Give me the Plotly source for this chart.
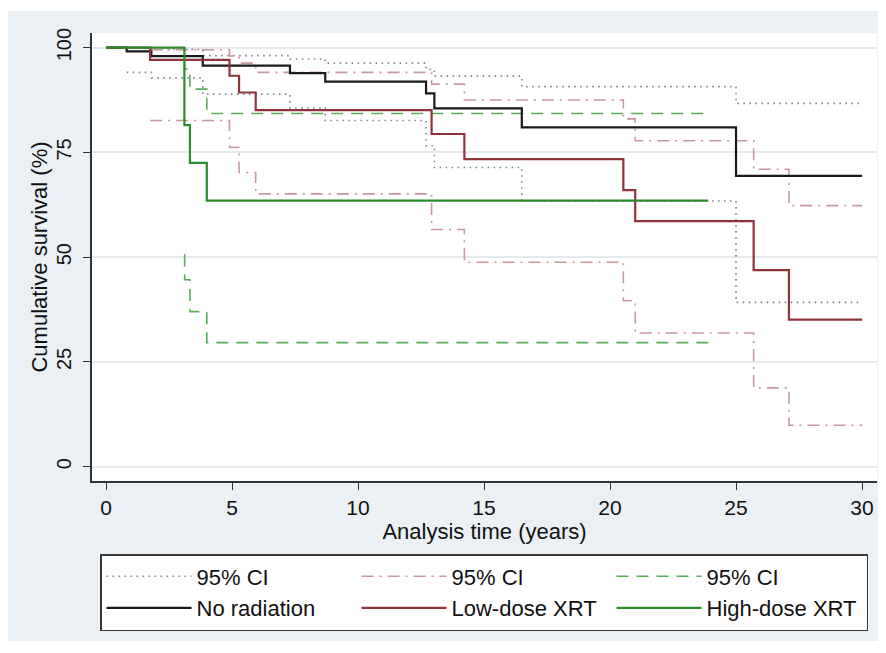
import plotly.graph_objects as go

# ---------------- data ----------------
time_none = [0, 0.82, 1.80, 3.84, 7.30, 8.70, 12.70, 13.03, 16.50, 25.00, 30.00]
surv_none = [100, 99.1, 98.0, 95.7, 93.9, 91.9, 89.1, 85.5, 81.0, 69.4, 69.4]
ci_none_t = [0.82, 1.80, 3.84, 7.30, 8.70, 12.70, 13.03, 16.50, 25.00, 30.00]
ci_none_lo = [94.1, 92.8, 88.9, 85.6, 82.6, 76.6, 71.4, 63.4, 39.2, 39.2]
ci_none_hi = [99.9, 99.6, 98.1, 97.3, 96.3, 94.8, 93.2, 90.7, 86.7, 86.7]

time_low = [0, 1.75, 4.90, 5.28, 5.94, 12.92, 14.22, 20.53, 21.00, 25.70, 27.10, 30.00]
surv_low = [100, 97.1, 93.3, 89.3, 85.1, 79.4, 73.4, 66.0, 58.6, 46.9, 35.1, 35.1]
ci_low_t = [1.75, 4.90, 5.28, 5.94, 12.92, 14.22, 20.53, 21.00, 25.70, 27.10, 30.00]
ci_low_lo = [82.6, 76.2, 70.2, 65.1, 56.6, 48.8, 39.6, 31.9, 18.8, 9.9, 9.9]
ci_low_hi = [99.5, 98.0, 96.3, 94.1, 91.3, 87.5, 83.0, 77.8, 71.0, 62.3, 62.3]

time_high = [0, 3.11, 3.33, 4.00, 23.90]
surv_high = [100, 81.5, 72.5, 63.5, 63.5]
ci_high_t = [3.11, 3.12, 3.33, 4.00, 23.90]
ci_high_lo = [50.6, 44.6, 37.0, 29.6, 29.6]
ci_high_hi = [97.0, 94.9, 90.1, 84.3, 84.3]

series_names = ["No radiation", "Low-dose XRT", "High-dose XRT"]
ci_label = "95% CI"
x_ticks = [0, 5, 10, 15, 20, 25, 30]
y_ticks = [0, 25, 50, 75, 100]

# ---------------- styling ----------------
FONT = "Liberation Sans, Arial, Helvetica, sans-serif"
PANEL = "#eaf0f3"
GRID = "#e3ebee"
C_NONE = "#1a1a1a"
C_LOW = "#8f343b"
C_HIGH = "#2a8c2a"
C_NONE_CI = "#80879a"
C_LOW_CI = "#c9979d"
C_HIGH_CI = "#5aac5a"


def both(t, lo, hi):
    xs = list(t) + [None] + list(t)
    ys = list(hi) + [None] + list(lo)
    return xs, ys


fig = go.Figure()

x, y = both(ci_none_t, ci_none_lo, ci_none_hi)
fig.add_trace(go.Scatter(x=x, y=y, mode="lines", name=ci_label, legendrank=1,
                         line=dict(color=C_NONE_CI, width=1.6, dash="1.6px,4.4px", shape="hv"),
                         connectgaps=False))
x, y = both(ci_low_t, ci_low_lo, ci_low_hi)
fig.add_trace(go.Scatter(x=x, y=y, mode="lines", name=ci_label, legendrank=2,
                         line=dict(color=C_LOW_CI, width=1.6, dash="12px,6px,2px,6px", shape="hv"),
                         connectgaps=False))
x, y = both(ci_high_t, ci_high_lo, ci_high_hi)
fig.add_trace(go.Scatter(x=x, y=y, mode="lines", name=ci_label, legendrank=3,
                         line=dict(color=C_HIGH_CI, width=1.6, dash="12px,8px", shape="hv"),
                         connectgaps=False))

fig.add_trace(go.Scatter(x=time_none, y=surv_none, mode="lines", name=series_names[0], legendrank=4,
                         line=dict(color=C_NONE, width=2.2, shape="hv")))
fig.add_trace(go.Scatter(x=time_low, y=surv_low, mode="lines", name=series_names[1], legendrank=5,
                         line=dict(color=C_LOW, width=2.2, shape="hv")))
fig.add_trace(go.Scatter(x=time_high, y=surv_high, mode="lines", name=series_names[2], legendrank=6,
                         line=dict(color=C_HIGH, width=2.2, shape="hv")))

# the page body has an 8px margin, so the figure is drawn 8px smaller and offset
OFF = 8
W, H = 886 - OFF, 653 - OFF
L, R, T, B = 92 - OFF, 9, 33 - OFF, 172
pw, ph = W - L - R, H - T - B


def px_x(p):
    return (p - OFF - L) / pw


def px_y(p):
    return (H - B - (p - OFF)) / ph


fig.update_layout(
    width=W, height=H,
    margin=dict(l=L, r=R, t=T, b=B, autoexpand=False),
    paper_bgcolor="white",
    plot_bgcolor="white",
    font=dict(family=FONT, size=20, color="#111"),
    showlegend=True,
    legend=dict(
        orientation="h",
        x=px_x(100), xanchor="left",
        y=px_y(554), yanchor="top",
        bgcolor="white",
        bordercolor="#3a3a3a",
        borderwidth=1.5,
        font=dict(family=FONT, size=22, color="#111"),
        entrywidth=155,
        entrywidthmode="pixels",
        itemwidth=85,
        traceorder="normal",
        tracegroupgap=0,
    ),
    shapes=[
        dict(type="rect", xref="paper", yref="paper", layer="below",
             x0=px_x(7), x1=px_x(882), y0=px_y(641), y1=px_y(11),
             fillcolor=PANEL, line=dict(width=0)),
        dict(type="rect", xref="paper", yref="paper", layer="below",
             x0=0, x1=1, y0=0, y1=1,
             fillcolor="white", line=dict(width=0)),
    ],
)

fig.update_xaxes(
    range=[-0.556, 30.595],
    tickmode="array", tickvals=x_ticks, ticktext=[str(v) for v in x_ticks],
    showgrid=False, zeroline=False,
    showline=True, linecolor="#333", linewidth=1.5,
    ticks="outside", ticklen=7, tickwidth=1.3, tickcolor="#333",
    tickfont=dict(family=FONT, size=21, color="#111"),
    title=dict(text="Analysis time (years)", font=dict(family=FONT, size=22, color="#111"), standoff=0),
    automargin=False,
)
fig.update_yaxes(
    range=[-3.42, 103.5],
    tickmode="array", tickvals=y_ticks, ticktext=[str(v) for v in y_ticks],
    showgrid=True, gridcolor=GRID, gridwidth=1.5,
    zeroline=False,
    showline=True, linecolor="#333", linewidth=1.5,
    ticks="outside", ticklen=7, tickwidth=1.3, tickcolor="#333",
    tickangle=-90,
    ticklabelstandoff=4,
    tickfont=dict(family=FONT, size=20, color="#111"),
    title=dict(text="Cumulative survival (%)", font=dict(family=FONT, size=22, color="#111"), standoff=0),
    automargin=False,
)

fig.write_html("out.html")
